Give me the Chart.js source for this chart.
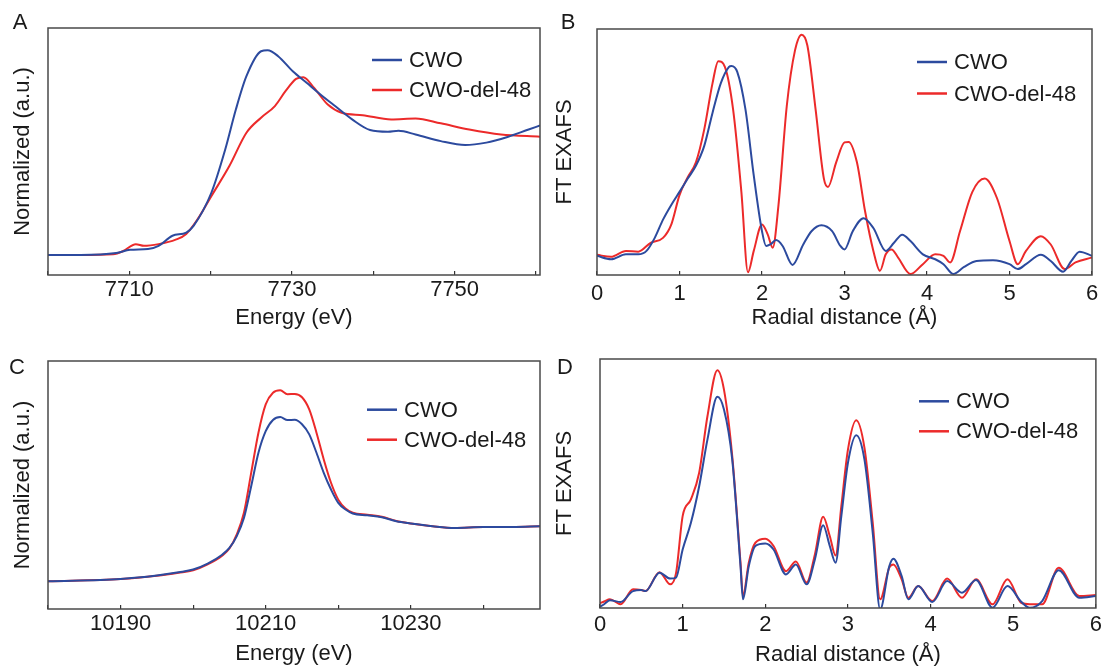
<!DOCTYPE html>
<html>
<head>
<meta charset="utf-8">
<script src="https://cdn.jsdelivr.net/npm/chart.js@4.4.0/dist/chart.umd.min.js"></script>
<style>
  html, body { margin: 0; padding: 0; background: #fff; overflow: hidden; width: 1101px; height: 666px; }
  .panel { position: absolute; }
</style>
</head>
<body>
<div class="panel" style="left:0;top:0"><canvas id="chartA" width="550" height="333"></canvas></div>
<div class="panel" style="left:550px;top:0"><canvas id="chartB" width="560" height="333"></canvas></div>
<div class="panel" style="left:0;top:333px"><canvas id="chartC" width="550" height="345"></canvas></div>
<div class="panel" style="left:550px;top:333px"><canvas id="chartD" width="560" height="345"></canvas></div>
<script>
// ---- data (y in arbitrary units 0-100) ----
// A: W L3-edge XANES? (Energy, eV)
const aX_cwo = [7700, 7704, 7708.4, 7710.1, 7712.3, 7713.6, 7715.3, 7717.0, 7717.9, 7720.1, 7721.8, 7723.1, 7724.4, 7726.2, 7727.0, 7728.3, 7730.1, 7731.8, 7733.5, 7735.3, 7737.4, 7739.6, 7741.8, 7743.1, 7745.2, 7748.3, 7751.3, 7753.9, 7756.5, 7759.1, 7760.5];
const aY_cwo = [8.1, 8.1, 8.9, 10.2, 10.5, 11.8, 15.9, 17.2, 19.9, 33.4, 50.9, 67, 80.5, 90.6, 91, 88.6, 82.5, 77.8, 73.1, 68.4, 63, 58.7, 58, 58.4, 56.9, 54.2, 52.6, 53.6, 55.9, 58.9, 60.5];
const aX_del = [7700, 7704, 7708, 7709.2, 7710.8, 7711.8, 7713.6, 7715.7, 7717.0, 7718.4, 7720.1, 7722.3, 7724.4, 7726.2, 7727.9, 7729.2, 7730.5, 7731.4, 7732.7, 7734.4, 7736.1, 7738.7, 7742.2, 7745.2, 7748.3, 7751.8, 7755.7, 7760.5];
const aY_del = [8.1, 8.1, 8.4, 9.6, 12.5, 11.8, 12.5, 14.3, 16.6, 22.6, 32, 44.1, 57.6, 63.7, 68.4, 74.4, 79.4, 80.1, 75.8, 69, 65.7, 64.7, 63, 63.4, 61.4, 58.9, 56.9, 56];

// B: FT EXAFS (Radial distance, Å)
const bX_cwo = [0, 0.17, 0.35, 0.5, 0.6, 0.7, 0.8, 0.9, 1.0, 1.1, 1.2, 1.3, 1.4, 1.5, 1.6, 1.63, 1.7, 1.8, 1.9, 2.0, 2.05, 2.1, 2.17, 2.25, 2.37, 2.5, 2.6, 2.72, 2.85, 2.95, 3.0, 3.1, 3.23, 3.35, 3.5, 3.6, 3.7, 3.8, 3.95, 4.1, 4.2, 4.32, 4.45, 4.6, 4.8, 5.0, 5.1, 5.2, 5.38, 5.5, 5.65, 5.75, 5.85, 6.0];
const bY_cwo = [7.8, 6.4, 8.4, 8.4, 9.8, 15.1, 22.5, 28.5, 33.8, 39.2, 44.5, 52.5, 65.9, 77.9, 84.6, 85, 82.6, 67.2, 40.5, 17.8, 11.8, 12.4, 14.2, 11.8, 4.1, 12.4, 17.8, 20.2, 17.8, 11.8, 10.4, 17.8, 23.1, 19.1, 9.8, 13.1, 16.4, 13.8, 8.4, 6.4, 4.4, 0.4, 3.3, 5.7, 6.0, 4.4, 2.4, 4.4, 8.2, 5.7, 1.3, 5.7, 9.5, 7.8];
const bX_del = [0, 0.17, 0.35, 0.5, 0.65, 0.8, 0.9, 1.0, 1.1, 1.2, 1.3, 1.4, 1.47, 1.55, 1.65, 1.75, 1.83, 1.9, 2.0, 2.07, 2.13, 2.2, 2.3, 2.4, 2.48, 2.55, 2.65, 2.75, 2.8, 2.9, 3.0, 3.05, 3.15, 3.25, 3.35, 3.43, 3.5, 3.57, 3.65, 3.8, 3.95, 4.1, 4.2, 4.28, 4.4, 4.55, 4.7, 4.85, 5.0, 5.1, 5.2, 5.38, 5.5, 5.67, 5.8, 6.0];
const bY_del = [8.2, 7.4, 9.8, 9.5, 13.1, 15.1, 20.5, 32.5, 39.8, 45.9, 59.2, 77.9, 86.9, 84.6, 67.2, 33.8, 1.1, 9.8, 20.5, 16.4, 11.1, 28.5, 68.6, 91.3, 97.7, 93.3, 67.2, 39.2, 35.8, 45.9, 53.9, 54.1, 45.9, 25.8, 9.8, 1.7, 8.4, 10.4, 7.1, 0.4, 4.4, 8.4, 7.8, 5.1, 17.8, 33.8, 39.2, 31.1, 13.8, 4.4, 9.8, 15.8, 12.4, 2.4, 5.1, 7.1];

// C: XANES (Energy, eV)
const cX = [10180, 10190, 10195, 10198, 10200, 10202, 10204, 10205, 10206, 10207, 10208, 10209, 10210, 10211, 10212, 10213, 10214, 10215, 10216, 10217, 10218, 10219, 10220, 10221, 10222, 10224, 10226, 10228, 10230, 10233, 10236, 10240, 10244, 10247.8];
const cY_cwo = [11.2, 12.1, 13.5, 14.8, 15.9, 18.3, 21.9, 24.6, 29.3, 36.7, 49.5, 63, 71.7, 76.2, 77.4, 76.2, 76.3, 74.5, 70.4, 63, 54.9, 48.2, 42.8, 40.1, 38.5, 37.8, 37.0, 35.4, 34.5, 33.4, 32.7, 33.1, 33.1, 33.4];
const cY_del = [11.2, 12.1, 13.4, 14.6, 15.6, 18.0, 21.5, 24.4, 30, 38.8, 54.9, 71.1, 82.5, 87.2, 88.2, 86.6, 86.7, 85.4, 80.5, 71.1, 60.3, 50.9, 44.1, 40.5, 38.8, 38.0, 37.2, 35.5, 34.5, 33.4, 32.7, 33.1, 33.1, 33.4];

// D: FT EXAFS (Radial distance, Å)
const dX = [0, 0.05, 0.12, 0.25, 0.4, 0.5, 0.55, 0.72, 0.85, 0.92, 1.0, 1.1, 1.2, 1.3, 1.42, 1.5, 1.6, 1.7, 1.73, 1.8, 1.88, 2.0, 2.1, 2.25, 2.37, 2.5, 2.6, 2.7, 2.78, 2.85, 2.92, 3.0, 3.1, 3.2, 3.3, 3.39, 3.5, 3.55, 3.65, 3.73, 3.85, 4.02, 4.2, 4.38, 4.55, 4.75, 4.93, 5.1, 5.2, 5.35, 5.55, 5.8, 6.0];
const dY_cwo = [0.5, 1.5, 3.1, 2.4, 6.8, 7.2, 6.8, 14.2, 11.8, 12.2, 23.5, 34.2, 48.9, 67.6, 84.8, 79.7, 59.6, 16.8, 3.5, 16.8, 24.9, 25.9, 23.5, 13.5, 17.5, 9.5, 19.5, 33.2, 24.9, 18.2, 36.9, 58.3, 69.4, 59.6, 30.2, -0.5, 16.8, 19.8, 12.8, 3.5, 8.8, 2.4, 10.8, 6.1, 11.2, 0.1, 8.8, 2.4, 0.1, 2.8, 15.2, 4.1, 4.8];
const dY_del = [1.9, 2.6, 3.5, 1.5, 7.5, 7.2, 6.8, 14.4, 9.5, 14.0, 36.9, 43.6, 54.3, 77, 95.5, 87.7, 61, 18.2, 4.8, 18.2, 26.2, 27.8, 24.9, 14.8, 18.7, 10.2, 21.5, 36.6, 28.9, 21.1, 40.9, 63.6, 75.4, 64.3, 34.2, 3.5, 16.2, 17.5, 11.5, 4.1, 8.8, 2.8, 11.8, 4.1, 11.5, 1.5, 11.5, 2.0, 1.5, 1.5, 16.2, 4.8, 5.2];

const BLUE = '#2c4a9e';
const RED = '#ec2a2a';

Chart.defaults.font.family = "'Liberation Sans', Arial, sans-serif";
Chart.defaults.font.size = 22;
Chart.defaults.color = '#1a1a1a';

const pairs = (xs, ys) => xs.map((x, i) => ({ x, y: ys[i] }));

// frame, panel letter and in-plot legend
const decor = {
  id: 'decor',
  afterDatasetsDraw(chart, args, o) {
    const { ctx, chartArea: a } = chart;
    ctx.save();
    ctx.strokeStyle = '#4a4a4a';
    ctx.lineWidth = 1.5;
    ctx.strokeRect(a.left, a.top, a.right - a.left, a.bottom - a.top);
    ctx.fillStyle = '#1a1a1a';
    ctx.font = "22px 'Liberation Sans', Arial, sans-serif";
    ctx.textBaseline = 'middle';
    ctx.textAlign = 'center';
    ctx.fillText(o.letter, o.letterX, o.letterY);
    ctx.textAlign = 'left';
    chart.data.datasets.forEach((ds, i) => {
      const y = o.legendY + i * o.legendGap;
      ctx.strokeStyle = ds.borderColor;
      ctx.lineWidth = 2.5;
      ctx.beginPath();
      ctx.moveTo(o.legendX, y);
      ctx.lineTo(o.legendX + 30, y);
      ctx.stroke();
      ctx.fillText(ds.label, o.legendX + 37, y + 1);
    });
    ctx.restore();
  }
};

function panel(id, p) {
  return new Chart(document.getElementById(id), {
    type: 'line',
    data: {
      datasets: [
        { label: 'CWO', data: pairs(p.x1, p.y1), borderColor: BLUE },
        { label: 'CWO-del-48', data: pairs(p.x2, p.y2), borderColor: RED }
      ]
    },
    options: {
      responsive: false,
      animation: false,
      events: [],
      layout: { padding: { left: 0, top: p.top, right: p.right, bottom: 0 } },
      elements: {
        point: { radius: 0 },
        line: { borderWidth: 2, cubicInterpolationMode: 'monotone', fill: false }
      },
      plugins: { legend: { display: false }, tooltip: { enabled: false }, decor: p.decor },
      scales: {
        x: {
          type: 'linear', min: p.min, max: p.max,
          afterFit: s => { s.height = p.xh; },
          ticks: {
            stepSize: p.step, includeBounds: false, autoSkip: false, maxRotation: 0,
            padding: p.tickPad,
            callback: v => p.labels.includes(v) ? String(v) : ''
          },
          grid: { drawOnChartArea: false, tickLength: -4, color: '#333', lineWidth: 1.2 },
          border: { display: false },
          title: { display: true, text: p.xTitle, padding: { top: 0, bottom: p.xTitlePad } }
        },
        y: {
          min: 0, max: 100,
          afterFit: s => { s.width = p.left; },
          ticks: { display: false },
          grid: { display: false },
          border: { display: false },
          title: { display: true, text: p.yTitle, padding: { top: p.yTitlePad, bottom: 0 } }
        }
      }
    },
    plugins: [decor]
  });
}

panel('chartA', {
  x1: aX_cwo, y1: aY_cwo, x2: aX_del, y2: aY_del,
  min: 7700, max: 7760.5, step: 10, labels: [7710, 7730, 7750],
  left: 48, top: 28, right: 10, xh: 58, tickPad: 6,
  xTitle: 'Energy (eV)', xTitlePad: 2.3, yTitle: 'Normalized (a.u.)', yTitlePad: 9.3,
  decor: { letter: 'A', letterX: 20, letterY: 22.5, legendX: 372, legendY: 60, legendGap: 30 }
});

panel('chartB', {
  x1: bX_cwo, y1: bY_cwo, x2: bX_del, y2: bY_del,
  min: 0, max: 6, step: 1, labels: [0, 1, 2, 3, 4, 5, 6],
  left: 47, top: 29, right: 18, xh: 58, tickPad: 10,
  xTitle: 'Radial distance (Å)', xTitlePad: 2.3, yTitle: 'FT EXAFS', yTitlePad: 2,
  decor: { letter: 'B', letterX: 18, letterY: 23, legendX: 367, legendY: 62, legendGap: 31.5 }
});

panel('chartC', {
  x1: cX, y1: cY_cwo, x2: cX, y2: cY_del,
  min: 10180, max: 10247.8, step: 10, labels: [10190, 10210, 10230],
  left: 48, top: 28, right: 10, xh: 69, tickPad: 6,
  xTitle: 'Energy (eV)', xTitlePad: 10.8, yTitle: 'Normalized (a.u.)', yTitlePad: 9.3,
  decor: { letter: 'C', letterX: 17, letterY: 35.3, legendX: 367, legendY: 76.7, legendGap: 30 }
});

panel('chartD', {
  x1: dX, y1: dY_cwo, x2: dX, y2: dY_del,
  min: 0, max: 6, step: 1, labels: [0, 1, 2, 3, 4, 5, 6],
  left: 50, top: 26, right: 13, xh: 70, tickPad: 8,
  xTitle: 'Radial distance (Å)', xTitlePad: 10.3, yTitle: 'FT EXAFS', yTitlePad: 2,
  decor: { letter: 'D', letterX: 15, letterY: 35.3, legendX: 369, legendY: 68.3, legendGap: 30 }
});
</script>
</body>
</html>
